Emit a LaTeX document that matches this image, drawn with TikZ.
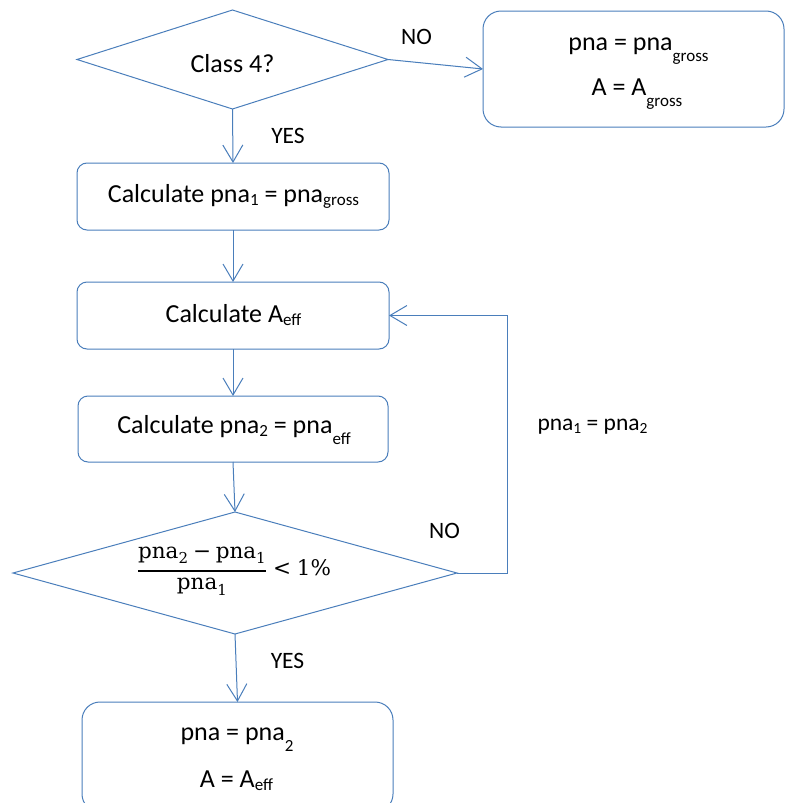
\documentclass[tikz,border=0pt]{standalone}
\usepackage[no-math]{fontspec}
\setmainfont{Carlito}
\newfontfamily\mf{DejaVu Serif}
\usetikzlibrary{shapes.geometric,arrows.meta}
\definecolor{ln}{RGB}{74,126,187}
\newcommand{\lsub}[1]{\raisebox{-11pt}{\fontsize{17}{17}\selectfont #1}}
\newcommand{\nsub}[1]{\raisebox{-3pt}{\fontsize{17}{17}\selectfont #1}}
\newcommand{\ssub}[1]{\raisebox{-3pt}{\fontsize{15.5}{15.5}\selectfont #1}}
\newcommand{\mpna}[1]{\hbox{\mf pna}_{\hbox{\fontsize{15}{15}\mf #1}}}
\begin{document}
\begin{tikzpicture}[x=1pt,y=-1pt,
  shp/.style={draw=ln, line width=1pt, inner sep=0pt, outer sep=0pt},
  dia/.style={shp, diamond},
  rbox/.style={shp, rectangle, rounded corners=10pt},
  bigbox/.style={shp, rectangle, rounded corners=18pt},
  txt/.style={inner sep=0pt, anchor=base, font=\fontsize{26}{31}\selectfont},
  lbl/.style={inner sep=0pt, anchor=base, font=\fontsize{23.5}{28}\selectfont},
  arr/.style={draw=ln, line width=1pt, -{Straight Barb[length=17pt,width=20pt]}},
  lnk/.style={draw=ln, line width=1pt}]
\useasboundingbox (0,0) rectangle (785,803);
\clip (0,0) rectangle (785,803);

% shapes
\node[dia, minimum width=311pt, minimum height=99pt] (d1) at (232.5,59.5) {};
\node[bigbox, minimum width=301pt, minimum height=116pt] (nob) at (633.5,69) {};
\node[rbox, minimum width=312pt, minimum height=67pt] (b1) at (233,196.5) {};
\node[rbox, minimum width=312pt, minimum height=67pt] (b2) at (233,315.5) {};
\node[rbox, minimum width=310pt, minimum height=66pt] (b3) at (233,429) {};
\node[dia, minimum width=444pt, minimum height=122pt] (d2) at (235,573) {};
\node[bigbox, minimum width=311pt, minimum height=110pt] (fin) at (237.5,757) {};

% texts
\node[txt] (t1) at (232.5,72) {Class 4?};
\node[txt] (t2a) at (638.5,50) {pna = pna\lsub{gross}};
\node[txt] (t2b) at (637,95) {A = A\lsub{gross}};
\node[txt] (t3) at (233.5,202) {Calculate pna\nsub{1} = pna\nsub{gross}};
\node[txt] (t4) at (233.5,322) {Calculate A\nsub{eff}};
\node[txt] (t5) at (234,433) {Calculate pna\nsub{2} = pna\lsub{eff}};
\node[inner sep=0pt, font=\fontsize{21.5}{26}\selectfont] (t6) at (234,571)
  {$\displaystyle{\mpna{2}\mathbin{\hbox{\mf −}}\mpna{1}\above 2pt\mpna{1}}\mathrel{\hbox{\mf <}}\hbox{\mf 1\%}$};
\node[txt] (t7a) at (237,740) {pna = pna\lsub{2}};
\node[txt] (t7b) at (236.5,787) {A = A\nsub{eff}};

% labels
\node[lbl] (no1) at (416.5,44) {NO};
\node[lbl] (yes1) at (288,143) {YES};
\node[lbl] (no2) at (444.5,538) {NO};
\node[lbl] (loop) at (592.5,430) {pna\ssub{1} = pna\ssub{2}};
\node[lbl] (yes2) at (287.5,668) {YES};

% connectors
\draw[arr] (d1.east) -- (nob.west);
\draw[arr] (d1.south) -- (b1.north);
\draw[arr] (b1.south) -- (b2.north);
\draw[arr] (b2.south) -- (b3.north);
\draw[arr] (b3.south) -- (d2.north);
\draw[arr] (d2.south) -- (fin.north);
\coordinate (lp) at (507,573);
\draw[arr] (d2.east) -- (lp) |- (b2.east);
\end{tikzpicture}
\end{document}
